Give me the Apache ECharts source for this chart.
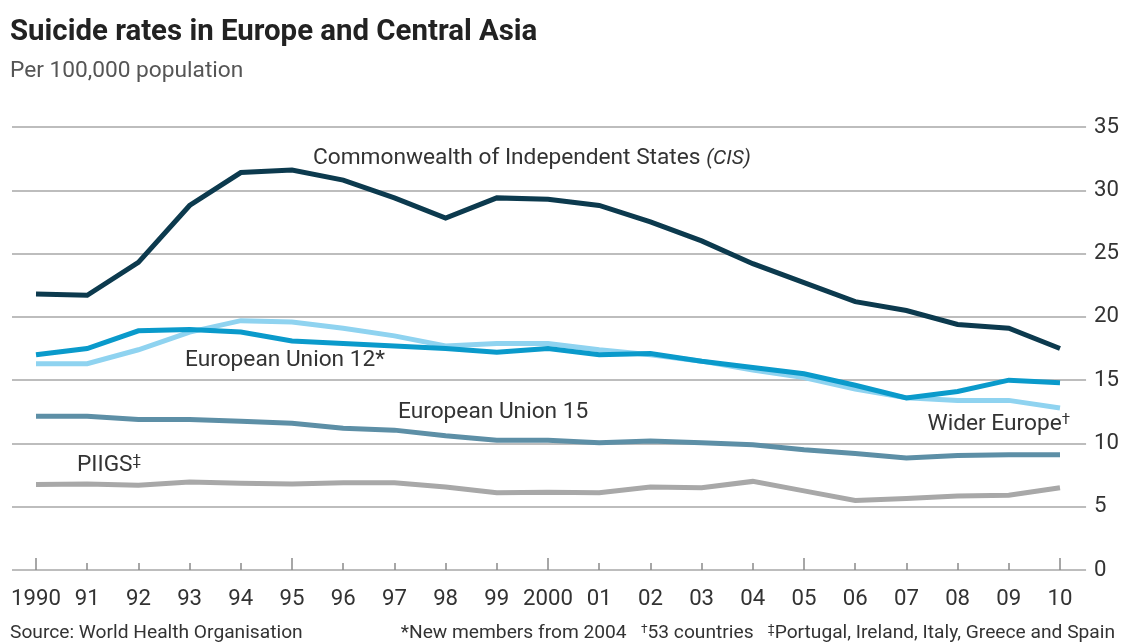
<!DOCTYPE html>
<html><head><meta charset="utf-8">
<script src="https://cdn.jsdelivr.net/npm/echarts@6/dist/echarts.min.js"></script>
<style>html,body{margin:0;padding:0;background:#fff}#c{width:1122px;height:643px}</style>
</head><body><div id="c"></div>
<script>
const years = [1990,1991,1992,1993,1994,1995,1996,1997,1998,1999,2000,2001,2002,2003,2004,2005,2006,2007,2008,2009,2010];
const cis    = [21.8,21.7,24.3,28.8,31.4,31.6,30.8,29.4,27.8,29.4,29.3,28.8,27.5,26.0,24.2,22.7,21.2,20.5,19.4,19.1,17.5];
const eu12   = [17.0,17.5,18.9,19.0,18.8,18.1,17.9,17.7,17.5,17.2,17.5,17.0,17.1,16.5,16.0,15.5,14.6,13.6,14.1,15.0,14.8];
const wider  = [16.3,16.3,17.4,18.8,19.7,19.6,19.1,18.5,17.7,17.9,17.9,17.4,17.0,16.5,15.8,15.2,14.3,13.6,13.4,13.4,12.8];
const eu15   = [12.15,12.15,11.9,11.9,11.75,11.6,11.2,11.05,10.6,10.25,10.25,10.05,10.2,10.05,9.9,9.5,9.2,8.85,9.05,9.1,9.1];
const piigs  = [6.75,6.8,6.7,6.95,6.85,6.8,6.9,6.9,6.55,6.1,6.15,6.1,6.55,6.5,7.0,6.25,5.5,5.65,5.85,5.9,6.5];
const yTicks = [0,5,10,15,20,25,30,35];

const FONT = 'Roboto, "Liberation Sans", sans-serif';
const mctx = document.createElement('canvas').getContext('2d');
function fit(text, target, weight, style) {
  mctx.font = (style||'normal') + ' ' + (weight||'normal') + ' 100px ' + FONT;
  return Math.round(100 * target / mctx.measureText(text).width * 10) / 10;
}
const fTitle = fit('Suicide rates in Europe and Central Asia', 528, 'bold');
const fSub   = fit('Per 100,000 population', 233);
const fAnn   = fit('European Union 12*', 200);
const fAxis  = fit('1990', 50);
const fFoot  = fit('Source: World Health Organisation', 293);
const fFoot2 = fit('*New members from 2004   †53 countries   ‡Portugal, Ireland, Italy, Greece and Spain', 722);

const pair = a => years.map((y,i)=>[y,a[i]]);
const chart = echarts.init(document.getElementById('c'), null, {renderer:'canvas'});
const TOP=127, BOTTOM=73;
const ser = (name, data, color, z) => ({
  name, type:'line', data: pair(data), xAxisIndex:0, yAxisIndex:0,
  symbol:'none', smooth:false, z,
  lineStyle:{color, width:5, cap:'butt', join:'miter'}
});
const f = (s, w, st) => (st||'normal') + ' ' + (w||'normal') + ' ' + s + 'px ' + FONT;
const sup = s => ({font: f(Math.round(s*0.65)), fill:'#333', verticalAlign:'top'});
chart.setOption({
  animation:false,
  textStyle:{fontFamily:FONT},
  grid:[
    {left:36, right:62, top:TOP, bottom:BOTTOM},
    {left:12, right:34, top:TOP, bottom:BOTTOM}
  ],
  xAxis:[
    {type:'value', gridIndex:0, position:'bottom', min:1990, max:2010, interval:1,
     axisLine:{show:false}, splitLine:{show:false},
     axisTick:{show:true, inside:true, length:7, lineStyle:{color:'#8a8a8a', width:1.5}},
     axisLabel:{margin:18, fontSize:fAxis, color:'#333', fontFamily:FONT,
       formatter:v => (v===1990||v===2000) ? String(v) : String(v%100).padStart(2,'0')}},
    {type:'value', gridIndex:0, position:'bottom', min:1990, max:2010, interval:5,
     axisLine:{show:false}, splitLine:{show:false}, axisLabel:{show:false},
     axisTick:{show:true, inside:true, length:12, lineStyle:{color:'#8a8a8a', width:1.5}}},
    {type:'value', gridIndex:1, min:0, max:1, show:false}
  ],
  yAxis:[
    {type:'value', gridIndex:0, min:0, max:35, interval:5, show:false},
    {type:'value', gridIndex:1, min:0, max:35, interval:5, position:'right',
     axisLine:{show:false}, axisTick:{show:false},
     splitLine:{show:true, lineStyle:{color:'#bdbdbd', width:2}},
     axisLabel:{margin:8, fontSize:fAxis, color:'#333', align:'left', fontFamily:FONT,
       formatter:v => yTicks.includes(v) ? String(v) : ''}}
  ],
  series:[
    ser('PIIGS', piigs, '#a8a8a8', 2),
    ser('European Union 15', eu15, '#5d8fa6', 3),
    ser('Wider Europe', wider, '#8fd3f0', 4),
    ser('European Union 12', eu12, '#0a9acb', 5),
    ser('CIS', cis, '#0c3a4e', 6)
  ],
  graphic:[
    {type:'text', left:10, top:18, style:{text:'Suicide rates in Europe and Central Asia', font:f(fTitle,'bold'), fill:'#222'}},
    {type:'text', left:10, top:60, style:{text:'Per 100,000 population', font:f(fSub), fill:'#555'}},
    {type:'text', left:313, top:147, style:{text:'{n|Commonwealth of Independent States }{i|(CIS)}', font:f(fAnn), fill:'#333',
      rich:{n:{font:f(fAnn), fill:'#333'}, i:{font:f(fAnn*0.92,'normal','italic'), fill:'#333'}}}},
    {type:'text', left:185, top:349, style:{text:'European Union 12*', font:f(fAnn), fill:'#333'}},
    {type:'text', left:398, top:401, style:{text:'European Union 15', font:f(fAnn), fill:'#333'}},
    {type:'text', left:77, top:454, style:{text:'{n|PIIGS}{s|‡}', font:f(fAnn), fill:'#333',
      rich:{n:{font:f(fAnn), fill:'#333'}, s:sup(fAnn)}}},
    {type:'text', right:52, top:413, style:{text:'{n|Wider Europe}{s|†}', font:f(fAnn), fill:'#333',
      rich:{n:{font:f(fAnn), fill:'#333'}, s:sup(fAnn)}}},
    {type:'text', left:10, top:624, style:{text:'Source: World Health Organisation', font:f(fFoot), fill:'#333'}},
    {type:'text', right:7, top:624, style:{text:'{n|*New members from 2004   }{s|†}{n|53 countries   }{s|‡}{n|Portugal, Ireland, Italy, Greece and Spain}', font:f(fFoot2), fill:'#333',
      rich:{n:{font:f(fFoot2), fill:'#333'}, s:sup(fFoot2)}}}
  ]
});
</script></body></html>
